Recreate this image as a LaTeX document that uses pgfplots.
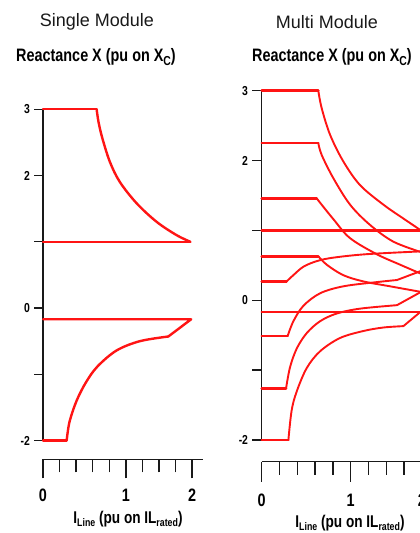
\documentclass[border=0pt]{standalone}
\usepackage{fontspec}
\setmainfont{Liberation Sans}
\newfontfamily\cond[FakeStretch=0.8]{Liberation Sans}
\usepackage{pgfplots}
\pgfplotsset{compat=1.18}
\definecolor{cl}{RGB}{255,20,20}
\newcommand\sub[2][11]{\raisebox{-0.4ex}{\fontsize{#1}{#1}\selectfont #2}}
\pgfplotsset{
  panel/.style={scale only axis, clip=false,
    tick style={line width=1.4pt, black!90}},
  noarrow/.style={axis line style={-, line width=1.2pt, black!90},
    x axis line style={-}, y axis line style={-}},
  lt/.style={cl, line width=2.4pt, line join=round, line cap=round},
  rt/.style={cl, line width=1.9pt, line join=round, line cap=round},
  rf/.style={cl, line width=2.5pt, line join=round, line cap=round},
  sm/.style={smooth, tension=0.55},
}
\begin{document}
\begin{tikzpicture}[x=1pt,y=1pt]
\useasboundingbox (0,0) rectangle (420,533);
\clip (0,0) rectangle (420,533);

% ---- titles ----
\node[black!90] at (97,511) {\fontsize{18}{20}\selectfont Single Module};
\node[black!90] at (327,511) {\fontsize{18}{20}\selectfont Multi Module};
\node[black] at (96,476) {\cond\bfseries\fontsize{18}{20}\selectfont Reactance X (pu on X\sub[13]{C})};
\node[black] at (332,476) {\cond\bfseries\fontsize{18}{20}\selectfont Reactance X (pu on X\sub[13]{C})};
\node[black] at (128,14) {\cond\bfseries\fontsize{17}{19}\selectfont I\sub{Line} (pu on IL\sub{rated})};
\node[black] at (350,10) {\cond\bfseries\fontsize{17}{19}\selectfont I\sub{Line} (pu on IL\sub{rated})};

% ================= LEFT PANEL =================
\begin{axis}[panel, at={(43pt,92.5pt)}, anchor=south west,
  width=149pt, height=331.2pt, xmin=0, xmax=9, ymin=-2, ymax=3,
  axis x line=none, axis y line=left,
  ytick={-2,-1,0,1,2,3}, yticklabels={\textbf{-2},,\textbf{0},,\textbf{2},\textbf{3}},
  ytick align=outside, major tick length=9pt,
  yticklabel style={font=\cond\bfseries\fontsize{13}{14}\selectfont, inner ysep=2pt, inner xsep=4pt},
  noarrow]
\addplot[lt] coordinates {(0,3) (3.24,3)};
\addplot[lt, sm] coordinates {(3.24,3) (3.36,2.8) (3.6,2.55) (4.05,2.2) (4.65,1.9) (5.66,1.58) (6.87,1.3) (8.07,1.1) (8.9,1.0)};
\addplot[lt] coordinates {(8.9,1.0) (0,1.0)};
\addplot[lt] coordinates {(0,-2) (1.43,-2)};
\addplot[lt, sm] coordinates {(1.43,-2) (1.6,-1.72) (2.03,-1.4) (2.6,-1.12) (3.3,-0.88) (4.45,-0.64) (5.86,-0.5) (7.57,-0.43)};
\addplot[lt] coordinates {(7.57,-0.43) (8.95,-0.17) (0,-0.17)};
\end{axis}
\begin{axis}[panel, at={(43pt,73.7pt)}, anchor=south west,
  width=160pt, height=10pt, xmin=0, xmax=9.66, ymin=0, ymax=1,
  axis y line=none, axis x line=bottom,
  xtick={0,5,9}, xticklabels={\textbf{0},\textbf{1},\textbf{2}},
  minor xtick={1,2,3,4,6,7,8}, xtick align=outside,
  major tick length=19pt, minor tick length=13pt,
  xticklabel style={font=\cond\bfseries\fontsize{18}{19}\selectfont},
  xticklabel shift=7pt,
  noarrow]
\end{axis}

% ================= RIGHT PANEL =================
\begin{axis}[panel, at={(261.7pt,93pt)}, anchor=south west,
  width=178pt, height=349.3pt, xmin=0, xmax=10, ymin=-2, ymax=3,
  axis x line=none, axis y line=left,
  ytick={-2,-1,0,1,2,3}, yticklabels={\textbf{-2},,\textbf{0},,\textbf{2},\textbf{3}},
  ytick align=outside, major tick length=9.5pt,
  yticklabel style={font=\cond\bfseries\fontsize{13}{14}\selectfont, inner ysep=2pt, inner xsep=4pt},
  noarrow]
% horizontal lines
\addplot[rf] coordinates {(0,1.0) (8.88,1.0)};
\addplot[rf] coordinates {(0,-0.165) (8.88,-0.165)};
% capacitive curves
\addplot[rf] coordinates {(0,3) (3.18,3)};
\addplot[rt, sm] coordinates {(3.18,3) (3.37,2.75) (3.84,2.37) (4.58,1.99) (5.52,1.65) (6.83,1.37) (7.96,1.17) (8.95,1.0)};
\addplot[rf] coordinates {(0,2.25) (3.18,2.25)};
\addplot[rt, sm] coordinates {(3.18,2.25) (3.37,2.08) (4.02,1.75) (4.96,1.37) (6.08,1.08) (7.39,0.84) (8.95,0.69)};
\addplot[rf] coordinates {(0,1.46) (3.09,1.46)};
\addplot[rt, sm] coordinates {(3.09,1.46) (3.27,1.40) (4.03,1.16) (4.96,0.89) (6.46,0.66) (7.77,0.51) (8.95,0.38)};
\addplot[rf] coordinates {(0,0.63) (3.18,0.63)};
\addplot[rt, sm] coordinates {(3.18,0.63) (3.65,0.51) (4.58,0.36) (5.71,0.27) (7.21,0.20) (8.95,0.12)};
% inductive curves
\addplot[rf] coordinates {(0,0.27) (1.40,0.27)};
\addplot[rt, sm] coordinates {(1.40,0.27) (1.78,0.36) (2.34,0.48) (3.09,0.56) (4.02,0.61) (5.90,0.66) (8.95,0.70)};
\addplot[rf] coordinates {(0,-0.51) (1.46,-0.51)};
\addplot[rt, sm] coordinates {(1.46,-0.51) (1.78,-0.30) (2.34,-0.08) (3.28,0.10) (4.59,0.20) (6.46,0.26) (7.6,0.29)};
\addplot[rt] coordinates {(7.6,0.29) (8.95,0.42)};
\addplot[rf] coordinates {(0,-1.26) (1.37,-1.26)};
\addplot[rt, sm] coordinates {(1.37,-1.26) (1.59,-0.96) (1.97,-0.69) (2.53,-0.47) (3.28,-0.30) (4.21,-0.19) (5.52,-0.12) (7.6,-0.07)};
\addplot[rt] coordinates {(7.6,-0.07) (8.95,0.12)};
\addplot[rf] coordinates {(0,-2) (1.50,-2)};
\addplot[rt, sm] coordinates {(1.50,-2) (1.68,-1.58) (1.96,-1.31) (2.53,-0.97) (3.28,-0.73) (4.40,-0.54) (5.71,-0.44) (6.83,-0.39) (7.96,-0.37)};
\addplot[rt] coordinates {(7.96,-0.37) (8.95,-0.16)};
\end{axis}
\begin{axis}[panel, at={(261.7pt,71.3pt)}, anchor=south west,
  width=178pt, height=10pt, xmin=0, xmax=10, ymin=0, ymax=1,
  axis y line=none, axis x line=bottom,
  xtick={0,5,9}, xticklabels={\textbf{0},\textbf{1},\textbf{2}},
  minor xtick={1,2,3,4,6,7,8}, xtick align=outside,
  major tick length=20pt, minor tick length=13pt,
  xticklabel style={font=\cond\bfseries\fontsize{18}{19}\selectfont},
  xticklabel shift=9pt,
  noarrow]
\end{axis}
\end{tikzpicture}
\end{document}
